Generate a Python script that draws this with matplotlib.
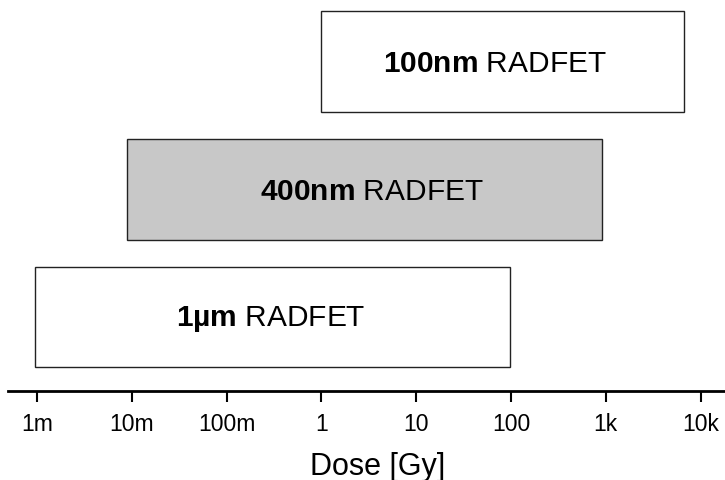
import matplotlib
matplotlib.use("Agg")
import matplotlib.pyplot as plt
import numpy as np

plt.rcParams['font.family'] = ['Liberation Sans', 'DejaVu Sans']
plt.rcParams['mathtext.fontset'] = 'custom'
plt.rcParams['mathtext.rm'] = 'Liberation Sans'
plt.rcParams['mathtext.bf'] = 'Liberation Sans:bold'

# Data
devices = ["1µm", "400nm", "100nm"]
dose_min = [0.00095, 0.0089, 1.0]
dose_max = [97.0, 910.0, 6700.0]
label_x = [0.29, 3.4, 68.0]
fills = ["white", "#c8c8c8", "white"]
tick_vals = [1e-3, 1e-2, 1e-1, 1, 10, 100, 1e3, 1e4]
tick_labels = ["1m", "10m", "100m", "1", "10", "100", "1k", "10k"]

W, H = 725, 481
fig = plt.figure(figsize=(W / 100, H / 100), dpi=100)
ax = fig.add_axes([8 / W, (H - 392) / H, (747 - 8) / W, 392 / H])

ax.set_xscale('log')
ypos = np.arange(len(devices))
for y, lo, hi, fc, name, lx in zip(ypos, dose_min, dose_max, fills, devices, label_x):
    ax.barh(y, hi - lo, left=lo, height=0.79, color=fc, edgecolor='#222222', linewidth=1.0)
    ax.text(lx, y - 0.01, r"$\mathbf{" + name + r"}$" + " RADFET", ha='center', va='center',
            fontsize=21.5, color='black')

ax.set_xlim(10 ** -3.306, 10 ** 4.49)
ax.set_ylim(-0.58, 2.49)
ax.set_xticks(tick_vals)
ax.set_xticklabels(tick_labels)
ax.xaxis.set_minor_locator(matplotlib.ticker.NullLocator())
ax.tick_params(axis='x', direction='out', length=8, width=1.5, labelsize=16.5, pad=7)
ax.set_yticks([])
for s in ['left', 'right', 'top']:
    ax.spines[s].set_visible(False)
ax.spines['bottom'].set_linewidth(2)
ax.set_xlabel("Dose [Gy]", fontsize=22, labelpad=12)

fig.savefig("out.png", dpi=100)
